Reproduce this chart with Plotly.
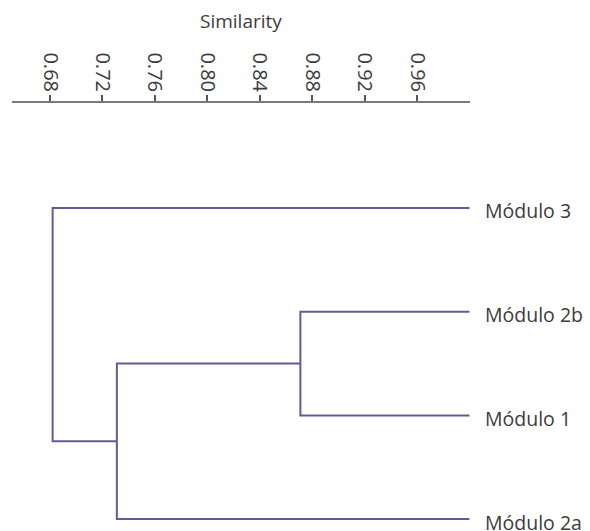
import plotly.graph_objects as go

# ---- data ----
leaf_labels = ["Módulo 3", "Módulo 2b", "Módulo 1", "Módulo 2a"]
# merges: (child_a, child_b, similarity); children index leaves (0..3) or earlier merges (4..)
merge_a = [1, 4, 5]
merge_b = [2, 3, 0]
merge_sim = [0.871, 0.731, 0.682]
tick_vals = [0.68, 0.72, 0.76, 0.80, 0.84, 0.88, 0.92, 0.96]
tick_text = ["0.68", "0.72", "0.76", "0.80", "0.84", "0.88", "0.92", "0.96"]
axis_title = "Similarity"
leaf_sim = 1.0

LINE = "#5e5e96"
TEXT = "#3c3c3c"
FONT = "Open Sans"

# node positions
node_x = [leaf_sim] * len(leaf_labels)
node_y = list(range(len(leaf_labels)))
xs, ys = [], []
for a, b, s in zip(merge_a, merge_b, merge_sim):
    xs += [node_x[a], s, s, node_x[b], None]
    ys += [node_y[a], node_y[a], node_y[b], node_y[b], None]
    node_x.append(s)
    node_y.append((node_y[a] + node_y[b]) / 2)

fig = go.Figure()
fig.add_trace(go.Scatter(x=xs, y=ys, mode="lines",
                         line=dict(color=LINE, width=2),
                         hoverinfo="skip", showlegend=False))

for i, lab in enumerate(leaf_labels):
    fig.add_annotation(x=leaf_sim, y=i, xref="x", yref="y", text=lab,
                       showarrow=False, xanchor="left", yanchor="middle",
                       xshift=15, yshift=-3, borderpad=0,
                       font=dict(family=FONT, size=19.5, color=TEXT))

fig.add_annotation(x=(0.651 + 1.0004) / 2, y=1, xref="x", yref="paper",
                   text=axis_title, showarrow=False, xanchor="center",
                   yanchor="middle", yshift=82,
                   font=dict(family=FONT, size=19, color=TEXT))

fig.update_layout(
    width=590, height=531,
    margin=dict(l=12, r=120, t=103, b=0),
    paper_bgcolor="white", plot_bgcolor="white",
    showlegend=False,
    xaxis=dict(range=[0.651, 1.0004], side="top", showgrid=False, zeroline=False,
               showline=True, linecolor="#7a7a7a", linewidth=2,
               ticks="outside", ticklen=6, tickwidth=1.5, tickcolor="#555555",
               tickvals=tick_vals, ticktext=tick_text, tickangle=90,
               ticklabelstandoff=-4,
               tickfont=dict(family=FONT, size=20, color=TEXT)),
    yaxis=dict(range=[3.115, -1.0125], visible=False, showgrid=False, zeroline=False),
)

fig.write_html("out.html", config={"displayModeBar": False},
               post_script="document.body.style.margin='0';document.body.style.overflow='hidden';")
